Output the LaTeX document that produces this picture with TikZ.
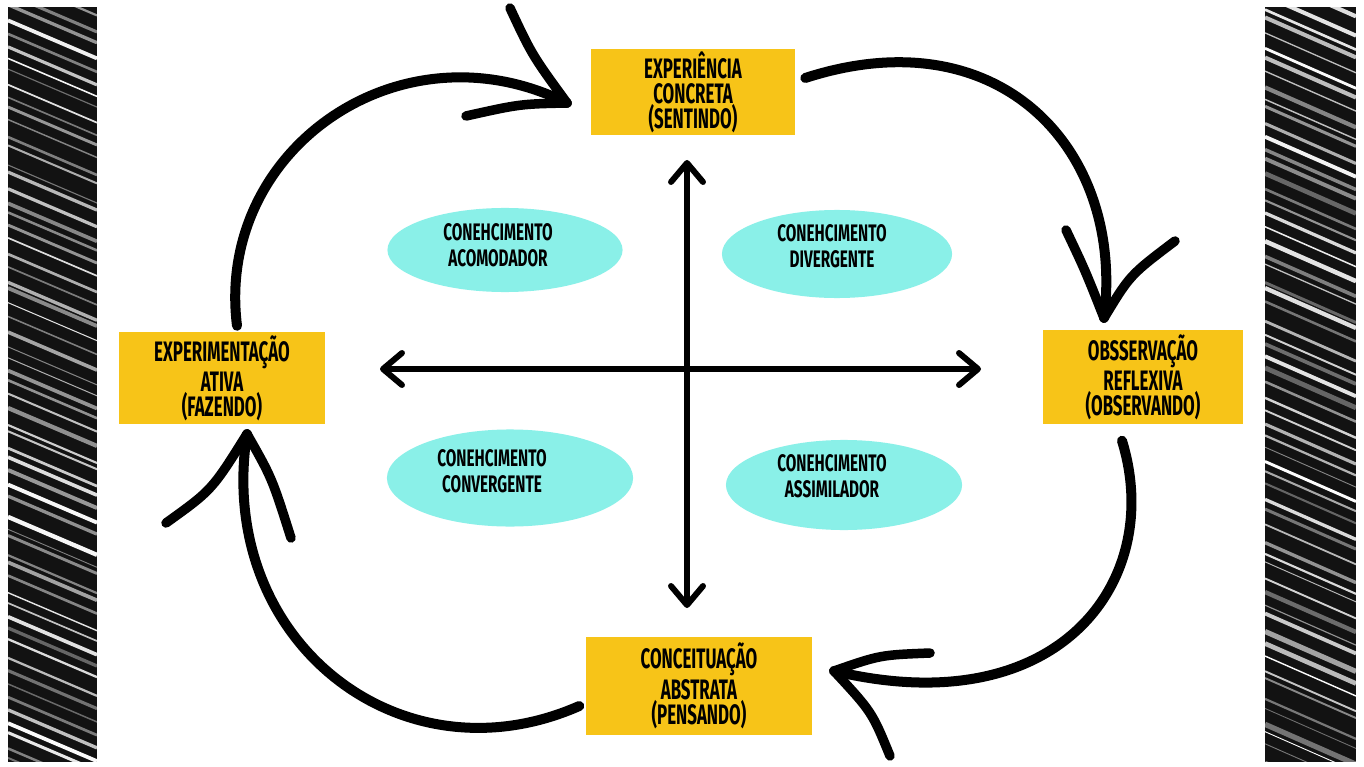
\documentclass[tikz,border=0pt]{standalone}
\usepackage{fontspec}
\newfontfamily\labfont{Fira Sans}[FakeStretch=0.6]
\newfontfamily\zonefont{Fira Sans}[FakeStretch=0.64]
\usetikzlibrary{shapes.geometric,arrows.meta}
\definecolor{boxy}{RGB}{247,196,24}
\definecolor{blob}{RGB}{138,240,232}
\definecolor{ink}{RGB}{18,18,18}
\begin{document}
\begin{tikzpicture}[x=0.01cm,y=-0.01cm,
  stage/.style={fill=boxy, inner sep=0pt, align=center,
    font=\labfont\bfseries\fontsize{8.0}{7.1}\selectfont},
  zone/.style={ellipse, fill=blob, inner sep=0pt},
  zonetext/.style={align=center, inner sep=0pt,
    font=\zonefont\bfseries\fontsize{6.8}{7.4}\selectfont},
  brush/.style={draw=black, line width=1mm, line cap=round, line join=round},
  barb/.style={draw=black, line width=0.95mm, line cap=round},
  axis/.style={draw=black, line width=1.7pt, line cap=round,
    {Straight Barb[length=1.9mm, width=3.2mm, line cap=round, line join=round]}-{Straight Barb[length=1.9mm, width=3.2mm, line cap=round, line join=round]}},
  hatch/.style={white, line cap=butt}]
\useasboundingbox (0,0) rectangle (1364,767);
\fill[white] (0,0) rectangle (1364,767);

% side hatching
\pgfmathsetseed{11}
\begin{scope}
  \clip (8,7) rectangle (97,762);
  \fill[ink] (8,7) rectangle (97,762);
  \foreach \i in {0,...,62}{
    \pgfmathsetmacro\yy{\i*13-50+rnd*8}
    \pgfmathsetmacro\ww{0.25+rnd*1.0}
    \pgfmathsetmacro\oo{0.35+rnd*0.65}
    \draw[hatch, line width=\ww pt, opacity=\oo] (8,\yy) -- (97,\yy+38);
  }
\end{scope}
\begin{scope}
  \clip (1265,7) rectangle (1356,762);
  \fill[ink] (1265,7) rectangle (1356,762);
  \foreach \i in {0,...,62}{
    \pgfmathsetmacro\yy{\i*13-50+rnd*8}
    \pgfmathsetmacro\ww{0.25+rnd*1.3}
    \pgfmathsetmacro\oo{0.35+rnd*0.65}
    \draw[hatch, line width=\ww pt, opacity=\oo] (1265,\yy) -- (1356,\yy+40);
  }
\end{scope}

% stage boxes
\node[stage, minimum width=2.03cm, minimum height=0.85cm] (top) at (693,92)
  {EXPERIÊNCIA\\CONCRETA\\(SENTINDO)};
\node[stage, minimum width=2.06cm, minimum height=0.91cm] (left) at (222,378)
  {EXPERIMENTAÇÃO\\ATIVA\\(FAZENDO)};
\node[stage, minimum width=2.00cm, minimum height=0.94cm] (right) at (1143,377)
  {OBSSERVAÇÃO\\REFLEXIVA\\(OBSERVANDO)};
\node[stage, minimum width=2.26cm, minimum height=0.97cm] (bottom) at (699,686)
  {CONCEITUAÇÃO\\ABSTRATA\\(PENSANDO)};

% knowledge zones
\node[zone, minimum width=2.35cm, minimum height=0.84cm] (acomE) at (505,250) {};
\node[zonetext] (acom) at (498,245) {CONEHCIMENTO\\ACOMODADOR};
\node[zone, minimum width=2.30cm, minimum height=0.88cm] (divE) at (837,254) {};
\node[zonetext] (div) at (832,246) {CONEHCIMENTO\\DIVERGENTE};
\node[zone, minimum width=2.46cm, minimum height=0.97cm] (convE) at (510,478) {};
\node[zonetext] (conv) at (492,471) {CONEHCIMENTO\\CONVERGENTE};
\node[zone, minimum width=2.36cm, minimum height=0.90cm] (assimE) at (844,485) {};
\node[zonetext] (assim) at (832,476) {CONEHCIMENTO\\ASSIMILADOR};

% central cross
\coordinate (axL) at (380,369);
\coordinate (axR) at (981,369);
\coordinate (axT) at (687,160);
\coordinate (axB) at (687,608);
\draw[axis] (axL) -- (axR);
\draw[axis] (axT) -- (axB);

% cycle arrows
\coordinate (tip1) at (567,103);
\coordinate (tip2) at (1104,318);
\coordinate (tip3) at (834,671);
\coordinate (tip4) at (247,434);

\draw[brush] ([xshift=0.15cm,yshift=0.06cm]left.north)
  .. controls (215,150) and (400,20) .. (tip1);
\draw[barb] (510,8) .. controls (532,55) .. (tip1);
\draw[barb] (466,116) .. controls (520,104) .. (tip1);

\draw[brush] ([xshift=0.10cm,yshift=0.14cm]top.east)
  .. controls (1000,15) and (1125,150) .. (tip2);
\draw[barb] (1066,230) .. controls (1085,270) .. (tip2);
\draw[barb] (1175,241) .. controls (1130,275) .. (tip2);

\draw[brush] ([xshift=-0.21cm,yshift=-0.16cm]right.south)
  .. controls (1165,580) and (1060,725) .. (tip3);
\draw[barb] (930,653) .. controls (880,655) .. (tip3);
\draw[barb] (890,756) .. controls (872,712) .. (tip3);

\draw[brush] ([xshift=-0.06cm,yshift=-0.20cm]bottom.west)
  .. controls (400,785) and (215,640) .. (tip4);
\draw[barb] (166,523) .. controls (212,490) .. (tip4);
\draw[barb] (291,538) .. controls (272,478) .. (tip4);
\end{tikzpicture}
\end{document}
